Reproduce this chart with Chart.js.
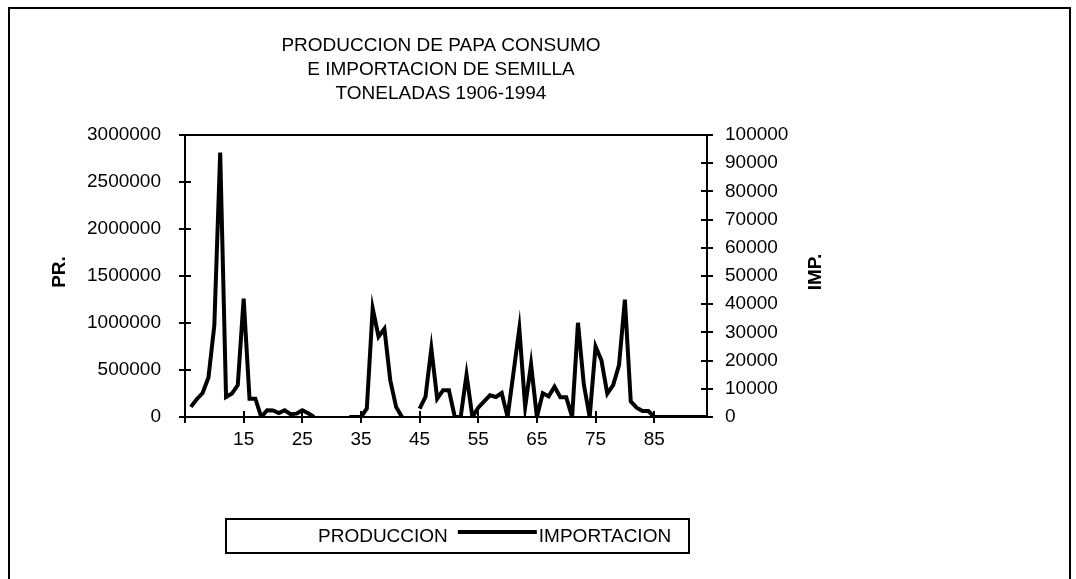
<!DOCTYPE html>
<html>
<head>
<meta charset="utf-8">
<script src="https://cdn.jsdelivr.net/npm/chart.js@4.4.1/dist/chart.umd.min.js"></script>
<style>
html,body{margin:0;padding:0;background:#fff;}
#wrap{width:1076px;height:579px;position:relative;}
canvas{display:block;}
</style>
</head>
<body>
<div id="wrap"><canvas id="c" width="1076" height="579"></canvas></div>
<script>
// ---------- DATA ----------
const titleLines = ['PRODUCCION DE PAPA CONSUMO', 'E IMPORTACION DE SEMILLA', 'TONELADAS 1906-1994'];
// categories: years (1900 + n); first slot (1905) is empty
const years = ['', '6','7','8','9','10','11','12','13','14','15','16','17','18','19','20','21','22','23','24','25',
  '26','27','28','29','30','31','32','33','34','35','36','37','38','39','40','41','42','43','44','45',
  '46','47','48','49','50','51','52','53','54','55','56','57','58','59','60','61','62','63','64','65',
  '66','67','68','69','70','71','72','73','74','75','76','77','78','79','80','81','82','83','84','85',
  '86','87','88','89','90','91','92','93','94'];
const xTickLabels = ['15','25','35','45','55','65','75','85'];
const prTicks = [0, 500000, 1000000, 1500000, 2000000, 2500000, 3000000];
const impTicks = [0, 10000, 20000, 30000, 40000, 50000, 60000, 70000, 80000, 90000, 100000];
// PRODUCCION is drawn in white in the original: no values can be read
const produccion = [];
// IMPORTACION (tonnes), one value per category above
const importacion = [null,
  3600, 6300, 8500, 14000, 32500, 93800, 7100, 8300, 11300, 42000,      // 6-15
  6500, 6500, 0, 2400, 2300, 1400, 2400, 1000, 1200, 2400,              // 16-25
  1300, 0, null, null, null, null, null, 0, 0, 0,                       // 26-35
  3000, 38500, 28500, 31300, 13000, 3500, 0, null, null, 3000,          // 36-45
  7100, 24300, 6500, 9500, 9500, 0, 0, 15000, 0, 3300,                  // 46-55
  5500, 7700, 7100, 8500, 0, 15600, 31300, 3600, 18700, 0,              // 56-65
  8400, 7300, 10700, 7000, 7000, 0, 33400, 11500, 0, 25000,             // 66-75
  20100, 8300, 11300, 18400, 41600, 5500, 3300, 2100, 2100, 0,          // 76-85
  0, 0, 0, 0, 0, 0, 0, 0, 0                                             // 86-94
];

// ---------- STYLE ----------
const FONT = "'Liberation Sans', Arial, sans-serif";
const FS = 19;

const decor = {
  id: 'decor',
  afterDraw(chart) {
    const ctx = chart.ctx;
    const a = chart.chartArea;
    const xs = chart.scales.x, ys = chart.scales.y, ys1 = chart.scales.y1;
    ctx.save();
    ctx.strokeStyle = '#000';
    ctx.fillStyle = '#000';
    // outer frame
    ctx.lineWidth = 2;
    ctx.beginPath();
    ctx.moveTo(9, 600); ctx.lineTo(9, 8); ctx.lineTo(1070, 8); ctx.lineTo(1070, 600);
    ctx.stroke();
    // plot top border
    ctx.beginPath();
    ctx.moveTo(a.left, a.top); ctx.lineTo(a.right, a.top);
    ctx.stroke();
    // crossing tick marks
    ctx.lineWidth = 2;
    ctx.beginPath();
    prTicks.forEach(v => { const p = Math.round(ys.getPixelForValue(v)); ctx.moveTo(a.left - 6, p); ctx.lineTo(a.left + 6, p); });
    impTicks.forEach(v => { const p = Math.round(ys1.getPixelForValue(v)); ctx.moveTo(a.right - 6, p); ctx.lineTo(a.right + 6, p); });
    years.forEach((y, i) => {
      if (i % 10 === 0) { const p = Math.round(xs.getPixelForValue(i)); ctx.moveTo(p, a.bottom - 6); ctx.lineTo(p, a.bottom + 6); }
    });
    ctx.stroke();
    // title
    ctx.font = FS + 'px ' + FONT;
    ctx.textAlign = 'center';
    ctx.textBaseline = 'middle';
    titleLines.forEach((t, i) => ctx.fillText(t, 441, 46 + i * 24));
    // axis titles
    ctx.font = 'bold ' + FS + 'px ' + FONT;
    ctx.save(); ctx.translate(60, 272); ctx.rotate(-Math.PI / 2); ctx.fillText('PR.', 0, 0); ctx.restore();
    ctx.save(); ctx.translate(816, 272); ctx.rotate(-Math.PI / 2); ctx.fillText('IMP.', 0, 0); ctx.restore();
    // legend
    ctx.lineWidth = 2;
    ctx.strokeRect(226, 519, 463, 34);
    ctx.font = FS + 'px ' + FONT;
    ctx.textAlign = 'left';
    let x = 237;
    const ly = 537;
    chart.data.datasets.forEach(ds => {
      ctx.strokeStyle = ds.borderColor;
      ctx.lineWidth = ds.borderWidth;
      ctx.beginPath(); ctx.moveTo(x, ly - 5); ctx.lineTo(x + 79, ly - 5); ctx.stroke();
      x += 81;
      ctx.fillStyle = '#000';
      ctx.fillText(ds.label, x, ly);
      x += ctx.measureText(ds.label).width + 10;
    });
    ctx.restore();
  }
};

new Chart(document.getElementById('c'), {
  type: 'line',
  data: {
    labels: years,
    datasets: [
      { label: 'PRODUCCION', data: produccion, yAxisID: 'y', borderColor: '#ffffff', borderWidth: 4, pointRadius: 0, fill: false },
      { label: 'IMPORTACION', data: importacion, yAxisID: 'y1', borderColor: '#000000', borderWidth: 4, pointRadius: 0, fill: false, spanGaps: false, tension: 0 }
    ]
  },
  options: {
    responsive: false,
    animation: false,
    devicePixelRatio: 1,
    events: [],
    layout: { padding: { top: 135, left: 0, right: 0, bottom: 0 } },
    plugins: { legend: { display: false }, title: { display: false }, tooltip: { enabled: false } },
    scales: {
      x: {
        type: 'category',
        offset: false,
        grid: { display: false, drawTicks: false },
        border: { display: true, color: '#000', width: 2 },
        ticks: {
          autoSkip: false, maxRotation: 0, minRotation: 0, padding: 11, color: '#000',
          font: { family: FONT, size: FS },
          callback: (v, i) => xTickLabels.includes(years[i]) ? years[i] : ''
        },
        afterFit: s => { s.height = 579 - 417; }
      },
      y: {
        position: 'left', min: prTicks[0], max: prTicks[prTicks.length - 1],
        grid: { display: false, drawTicks: false },
        border: { display: true, color: '#000', width: 2 },
        ticks: { stepSize: prTicks[1] - prTicks[0], padding: 24, color: '#000', font: { family: FONT, size: FS }, callback: v => String(v) },
        afterFit: s => { s.width = 185; }
      },
      y1: {
        position: 'right', min: impTicks[0], max: impTicks[impTicks.length - 1],
        grid: { display: false, drawTicks: false },
        border: { display: true, color: '#000', width: 2 },
        ticks: { stepSize: impTicks[1] - impTicks[0], padding: 18, color: '#000', font: { family: FONT, size: FS }, callback: v => String(v) },
        afterFit: s => { s.width = 1076 - 707; }
      }
    }
  },
  plugins: [decor]
});
</script>
</body>
</html>
